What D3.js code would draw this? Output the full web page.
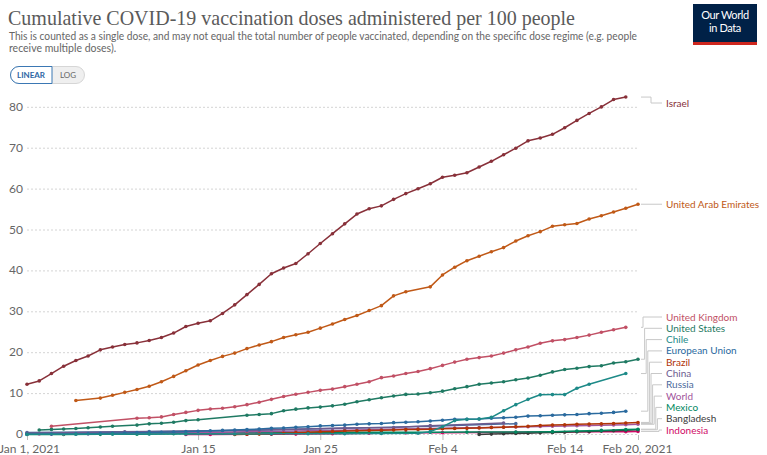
<!DOCTYPE html>
<html><head><meta charset="utf-8">
<script src="https://cdn.jsdelivr.net/npm/d3@7"></script>
<style>
body{margin:0;background:#fff;}
svg{display:block;font-family:Lato,"Open Sans",sans-serif;}
</style></head><body>
<svg id="chart" width="767" height="455"></svg>
<script>
// ---- data (per 100 people), one value per day from Jan 1, 2021; null = no report ----
const startDate = "2021-01-01";
const israel = [12.3,13.1,14.9,16.7,18.1,19.2,20.7,21.4,22.0,22.4, 23.0,23.7,24.8,26.4,27.2,27.8,29.6,31.7,34.2,36.7, 39.3,40.7,41.8,44.2,46.7,49.1,51.5,53.9,55.2,55.9, 57.5,58.9,60.1,61.3,62.9,63.4,64.0,65.4,66.8,68.4, 70.0,71.8,72.5,73.4,75.0,76.8,78.5,80.1,81.9,82.5, null];
const uae = [null,null,null,null,8.3,null,8.9,9.6,10.3,11.0, 11.8,12.9,14.2,15.6,17.0,18.1,19.1,19.9,21.0,21.9, 22.7,23.7,24.4,25.0,26.0,27.0,28.1,29.1,30.3,31.5, 33.9,34.9,null,36.1,39.0,40.9,42.5,43.6,44.7,45.7, 47.3,48.6,49.6,50.9,51.3,51.6,52.7,53.5,54.4,55.3, 56.3];
const uk = [null,null,2.0,null,null,null,null,null,null,3.97, 4.1,4.3,4.9,5.4,5.9,6.25,6.4,6.8,7.3,7.9, 8.6,9.3,9.85,10.3,10.8,11.1,11.7,12.3,12.9,13.9, 14.3,14.9,15.4,16.1,16.9,17.7,18.4,18.8,19.2,19.9, 20.7,21.4,22.3,22.9,23.2,23.7,24.3,25.0,25.6,26.2, null];
const us = [null,1.1,1.25,1.35,1.45,1.65,1.85,2.0,null,2.3, 2.6,2.75,3.0,3.4,3.6,null,null,null,4.7,4.9, 5.1,5.8,6.2,6.5,6.7,7.0,7.4,8.0,8.5,9.0, 9.4,9.8,9.9,10.2,10.6,11.2,11.7,12.3,12.6,12.9, 13.4,13.8,14.5,15.3,15.9,16.2,16.6,16.8,17.5,17.8, 18.4];
const chile = [0.05,null,null,null,0.07,null,null,0.09,null,null, 0.1,null,null,0.12,null,null,null,0.14,null,null, 0.16,null,null,0.18,null,null,0.2,null,null,0.24, null,null,0.3,0.7,1.9,3.4,3.7,3.8,4.2,5.8, 7.3,8.6,9.7,9.75,9.75,11.3,12.3,null,null,14.9, null];
const eu = [0.06,null,0.1,null,0.15,0.2,0.25,0.3,0.35,0.45, 0.5,0.55,0.62,0.7,0.8,0.9,1.0,1.1,1.2,1.35, 1.5,1.6,1.75,1.9,2.1,2.2,2.3,2.5,2.6,2.7, 2.9,3.0,3.1,3.3,3.5,3.7,3.7,3.8,4.0,4.1, 4.2,4.5,4.6,4.7,4.8,4.9,5.1,5.2,5.4,5.7, null];
const brazil = [null,null,null,null,null,null,null,null,null,null, null,null,null,null,null,null,null,0.01,0.05,0.1, 0.2,0.3,0.45,0.55,0.65,0.75,0.85,0.9,1.0,1.05, 1.1,1.2,1.25,1.3,1.4,1.45,1.5,1.6,1.7,1.8, 1.9,2.0,2.2,2.3,2.4,2.5,2.55,2.6,2.7,2.8, 2.95];
const china = [0.32,null,null,null,null,null,null,null,0.63,null, null,null,null,null,null,null,null,null,null,1.07, null,null,null,null,null,null,1.58,null,null,null, 1.7,null,null,2.17,null,null,null,null,null,2.81, null,null,null,null,null,null,null,null,null,null, null];
const russia = [0.5,null,null,null,null,null,null,null,null,null, 0.75,null,null,null,null,null,null,null,1.03,null, null,null,null,null,null,null,1.5,null,null,null, null,null,null,2.0,null,null,null,null,null,null, 2.65,null,null,null,null,null,null,null,null,null, null];
const world = [0.12,0.13,0.15,0.16,0.19,0.21,0.24,0.26,0.29,0.33, 0.36,0.39,0.43,0.46,0.5,0.55,0.58,0.61,0.66,0.71, 0.76,0.8,0.86,0.9,0.95,1.0,1.06,1.12,1.17,1.23, 1.28,1.34,1.39,1.45,1.5,1.57,1.62,1.68,1.74,1.79, 1.85,1.91,1.97,2.02,2.08,2.14,2.2,2.27,2.33,2.4, 2.5];
const mexico = [0.03,null,null,0.03,null,null,0.04,null,null,0.06, null,null,0.2,null,0.3,null,0.38,null,null,0.47, null,null,0.52,null,null,null,0.55,null,null,0.57, null,null,null,0.58,null,null,0.59,null,null,null, 0.61,null,null,0.7,null,0.85,null,1.0,null,1.2, 1.3];
const bangladesh = [null,null,null,null,null,null,null,null,null,null, null,null,null,null,null,null,null,null,null,null, null,null,null,null,null,null,null,null,null,null, null,null,null,null,null,null,null,0.02,0.1,0.2, 0.25,0.32,0.4,0.48,0.56,0.65,0.74,0.83,0.93,1.03, 1.15];
const indonesia = [null,null,null,null,null,null,null,null,null,null, null,null,null,0.01,null,0.03,null,null,0.05,null, 0.06,null,0.1,null,null,0.2,null,null,0.3,null, null,0.4,null,null,0.45,null,null,0.5,null,null, 0.55,null,null,0.6,null,null,0.65,null,null,0.7, 0.75];

const seriesNames = ["Israel","United Arab Emirates","United Kingdom","United States","Chile","European Union","Brazil","China","Russia","World","Mexico","Bangladesh","Indonesia"];
const seriesValues = [israel,uae,uk,us,chile,eu,brazil,china,russia,world,mexico,bangladesh,indonesia];
const seriesColors = ["#883039","#C05917","#C15065","#1f7a63","#1d8a88","#2a6a9e","#B13507","#6D5A8F","#4C6A9C","#A2559C","#00875E","#3a3a3a","#CF0A66"];

const yTicks = [0,10,20,30,40,50,60,70,80];
const xTickDates = ["2021-01-01","2021-01-15","2021-01-25","2021-02-04","2021-02-14","2021-02-20"];
const xTickLabels = ["Jan 1, 2021","Jan 15","Jan 25","Feb 4","Feb 14","Feb 20, 2021"];

const titleText = "Cumulative COVID-19 vaccination doses administered per 100 people";
const subtitleLines = ["This is counted as a single dose, and may not equal the total number of people vaccinated, depending on the specific dose regime (e.g. people","receive multiple doses)."];

// ---- drawing ----
const svg = d3.select("#chart");
const parse = d3.timeParse("%Y-%m-%d");
const t0 = parse(startDate);
const days = d3.range(israel.length).map(i => d3.timeDay.offset(t0, i));
const x = d3.scaleTime().domain([days[0], days[days.length-1]]).range([27, 638]);
const y = d3.scaleLinear().domain([0, 80]).range([434.5, 107.3]);

// header
svg.append("text").attr("x", 8).attr("y", 25).text(titleText)
  .attr("font-family", "'Liberation Serif','DejaVu Serif',serif").attr("font-size", 22)
  .attr("fill", "#5a5a5a").attr("textLength", 567).attr("lengthAdjust", "spacingAndGlyphs");
subtitleLines.forEach((s, i) => {
  const t = svg.append("text").attr("x", 9).attr("y", 40 + i * 12).text(s)
    .attr("font-size", 10.5).attr("fill", "#666");
  if (i === 0) t.attr("textLength", 628).attr("lengthAdjust", "spacingAndGlyphs");
});

// logo
const logo = svg.append("g");
logo.append("rect").attr("x", 693).attr("y", 4).attr("width", 64).attr("height", 41).attr("fill", "#002147");
logo.append("rect").attr("x", 693).attr("y", 42).attr("width", 64).attr("height", 3).attr("fill", "#ce261e");
logo.append("text").attr("x", 725).attr("y", 19).attr("text-anchor", "middle").attr("fill", "#fff")
  .attr("font-size", 11).attr("letter-spacing", -0.4).text("Our World");
logo.append("text").attr("x", 725).attr("y", 32).attr("text-anchor", "middle").attr("fill", "#fff")
  .attr("font-size", 11).attr("letter-spacing", -0.4).text("in Data");

// toggle
const tg = svg.append("g");
tg.append("rect").attr("x", 10.5).attr("y", 66.5).attr("width", 74).attr("height", 17).attr("rx", 8.5)
  .attr("fill", "#efefef").attr("stroke", "#d6d6d6");
tg.append("path").attr("d", "M52,66.5 H19 A8.5,8.5 0 0 0 19,83.5 H52 Z")
  .attr("fill", "#fff").attr("stroke", "#3b78b4").attr("stroke-width", 1);
tg.append("text").attr("x", 31).attr("y", 78).attr("text-anchor", "middle").attr("font-size", 8)
  .attr("font-weight", "bold").attr("fill", "#2d66a3").text("LINEAR");
tg.append("text").attr("x", 68).attr("y", 78).attr("text-anchor", "middle").attr("font-size", 8)
  .attr("fill", "#666").text("LOG");

// grid
const grid = svg.append("g");
yTicks.forEach(v => {
  grid.append("line").attr("x1", 27).attr("x2", 638).attr("y1", y(v)).attr("y2", y(v))
    .attr("stroke", "#d4d4d4").attr("stroke-dasharray", "2,2");
  grid.append("text").attr("x", 23).attr("y", y(v) + 3.5).attr("text-anchor", "end")
    .attr("font-size", 12).attr("fill", "#666").text(v);
});

// x axis
const xAxis = d3.axisBottom(x).tickValues(xTickDates.map(parse))
  .tickFormat((d, i) => xTickLabels[i]).tickSize(5).tickPadding(4);
const gx = svg.append("g").attr("transform", "translate(0,435)").call(xAxis);
gx.select(".domain").remove();
gx.selectAll(".tick line").attr("stroke", "#bbb");
gx.selectAll(".tick text").attr("font-family", "Lato,sans-serif").attr("font-size", 12).attr("fill", "#666")
  .attr("dx", (d, i) => i === 0 ? 2 : (i === xTickLabels.length - 1 ? -1 : 0));

// lines
const line = d3.line().x(p => x(p.d)).y(p => y(p.v));
const plot = svg.append("g");
const order = d3.range(seriesNames.length).reverse();
order.forEach(k => {
  const pts = days.map((d, i) => ({ d, v: seriesValues[k][i] })).filter(p => p.v != null);
  plot.append("path").datum(pts).attr("d", line).attr("fill", "none")
    .attr("stroke", seriesColors[k]).attr("stroke-width", 1.5).attr("stroke-linejoin", "round");
  plot.selectAll(null).data(pts).enter().append("circle")
    .attr("cx", p => x(p.d)).attr("cy", p => y(p.v)).attr("r", 1.8).attr("fill", seriesColors[k]);
});

// labels with collision avoidance
const lastVals = seriesValues.map(a => { const f = a.filter(v => v != null); return f[f.length - 1]; });
const items = seriesNames.map((n, k) => ({ k, n, yEnd: y(lastVals[k]) })).sort((a, b) => a.yEnd - b.yEnd);
const spacing = 11.3, minY = 103, maxY = 430;
items.forEach((it, i) => {
  it.ly = Math.max(it.yEnd, minY, i ? items[i - 1].ly + spacing : -Infinity);
});
for (let i = items.length - 1; i >= 0; i--) {
  const lim = i === items.length - 1 ? maxY : items[i + 1].ly - spacing;
  items[i].ly = Math.min(items[i].ly, lim);
}
const lab = svg.append("g");
let shiftedIdx = 0;
items.forEach(it => {
  const moved = Math.abs(it.ly - it.yEnd) > 0.5;
  let xv = 651;
  if (moved && it.yEnd > 300) { xv = 643 + shiftedIdx * 1.6; shiftedIdx++; }
  const dpath = moved
    ? `M641,${it.yEnd} H${xv} V${it.ly} H662`
    : `M641,${it.yEnd} H662`;
  lab.append("path").attr("d", dpath).attr("fill", "none").attr("stroke", "#c8c8c8").attr("stroke-width", 1);
  lab.append("text").attr("x", 666).attr("y", it.ly).attr("dy", "0.35em")
    .attr("font-size", 10).attr("fill", seriesColors[it.k]).text(it.n);
});
</script>
</body></html>
